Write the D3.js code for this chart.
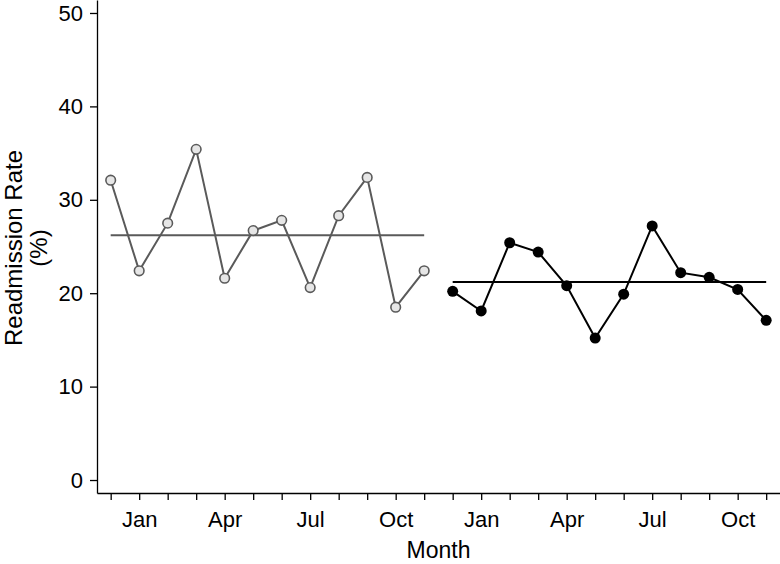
<!DOCTYPE html>
<html>
<head>
<meta charset="utf-8">
<script src="https://cdn.jsdelivr.net/npm/d3@7"></script>
<style>
  html, body { margin: 0; padding: 0; background: #fff; }
  svg { display: block; font-family: "Liberation Sans", Arial, Helvetica, sans-serif; }
</style>
</head>
<body>
<svg id="chart" width="780" height="564"></svg>
<script>
// ---- data ----
const monthLabels = ["Dec","Jan","Feb","Mar","Apr","May","Jun","Jul","Aug","Sep","Oct","Nov",
                     "Dec","Jan","Feb","Mar","Apr","May","Jun","Jul","Aug","Sep","Oct","Nov"];
const shownLabels = ["Jan","Apr","Jul","Oct"];
const yTicks = [0, 10, 20, 30, 40, 50];
const periodBefore = [32.1, 22.4, 27.5, 35.4, 21.6, 26.7, 27.8, 20.6, 28.3, 32.4, 18.5, 22.4];
const periodAfter  = [20.2, 18.1, 25.4, 24.4, 20.8, 15.2, 19.9, 27.2, 22.2, 21.7, 20.4, 17.1];
const meanBefore = 26.2;
const meanAfter = 21.2;
const xTitle = "Month";
const yTitle1 = "Readmission Rate";
const yTitle2 = "(%)";

// ---- layout ----
const svg = d3.select("#chart");
const mLeft = 97, mRight = 781, mTop = 0, mBottom = 493;

const x = d3.scaleLinear().domain([-0.48, 23.52]).range([mLeft, mRight]);
const y = d3.scaleLinear().domain([-1.39, 51.39]).range([mBottom, mTop]);

const greyLine = "#5a5a5a";
const greyFill = "#e6e6e6";

// axes
const yAxis = d3.axisLeft(y).tickValues(yTicks).tickSize(7).tickSizeOuter(0).tickPadding(7)
  .tickFormat(d3.format("d"));
const gy = svg.append("g").attr("transform", `translate(${mLeft},0)`).call(yAxis);
gy.selectAll("text").attr("font-size", 22).attr("fill", "#000");
gy.selectAll("line").attr("stroke", "#000").attr("stroke-width", 1.3);
gy.select(".domain").attr("stroke", "#000").attr("stroke-width", 1.3);

const xAxis = d3.axisBottom(x).tickValues(d3.range(monthLabels.length)).tickSize(7).tickSizeOuter(0)
  .tickPadding(11).tickFormat(i => shownLabels.includes(monthLabels[i]) ? monthLabels[i] : "");
const gx = svg.append("g").attr("transform", `translate(0,${mBottom})`).call(xAxis);
gx.selectAll("text").attr("font-size", 22).attr("fill", "#000");
gx.selectAll("line").attr("stroke", "#000").attr("stroke-width", 1.3);
gx.select(".domain").attr("stroke", "#000").attr("stroke-width", 1.3);
svg.selectAll("g").attr("font-family", null).attr("font-size", null);

// axis titles
svg.append("text").attr("x", (mLeft + 780) / 2).attr("y", 558)
  .attr("text-anchor", "middle").attr("font-size", 23).attr("fill", "#000").text(xTitle);
svg.append("text").attr("transform", "translate(22,248) rotate(-90)")
  .attr("text-anchor", "middle").attr("font-size", 24).attr("fill", "#000").text(yTitle1);
svg.append("text").attr("transform", "translate(47,248) rotate(-90)")
  .attr("text-anchor", "middle").attr("font-size", 24).attr("fill", "#000").text(yTitle2);

// series
const before = periodBefore.map((v, i) => ({ i, v }));
const after = periodAfter.map((v, i) => ({ i: i + periodBefore.length, v }));

svg.append("line")
  .attr("x1", x(before[0].i)).attr("x2", x(before[before.length - 1].i))
  .attr("y1", y(meanBefore)).attr("y2", y(meanBefore))
  .attr("stroke", greyLine).attr("stroke-width", 2);

svg.append("line")
  .attr("x1", x(after[0].i)).attr("x2", x(after[after.length - 1].i))
  .attr("y1", y(meanAfter)).attr("y2", y(meanAfter))
  .attr("stroke", "#000").attr("stroke-width", 2);

const line = d3.line().x(d => x(d.i)).y(d => y(d.v));

svg.append("path").datum(before).attr("d", line)
  .attr("fill", "none").attr("stroke", greyLine).attr("stroke-width", 2);
svg.selectAll("circle.before").data(before).enter().append("circle")
  .attr("class", "before")
  .attr("cx", d => x(d.i)).attr("cy", d => y(d.v)).attr("r", 4.8)
  .attr("fill", greyFill).attr("stroke", greyLine).attr("stroke-width", 1.6);

svg.append("path").datum(after).attr("d", line)
  .attr("fill", "none").attr("stroke", "#000").attr("stroke-width", 2);
svg.selectAll("circle.after").data(after).enter().append("circle")
  .attr("class", "after")
  .attr("cx", d => x(d.i)).attr("cy", d => y(d.v)).attr("r", 5.5)
  .attr("fill", "#000");
</script>
</body>
</html>
